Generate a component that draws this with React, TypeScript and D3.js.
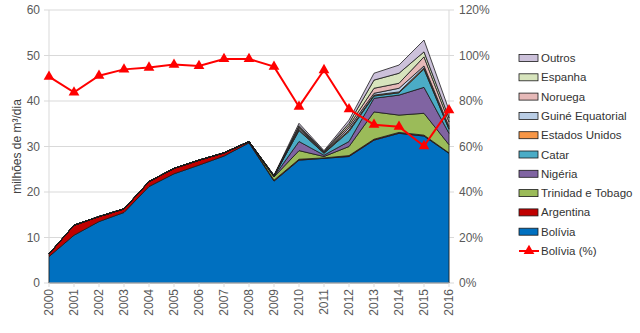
import React from "react";
import * as d3 from "d3";

const years = [2000,2001,2002,2003,2004,2005,2006,2007,2008,2009,2010,2011,2012,2013,2014,2015,2016];
const bolivia =   [5.8,10.5,13.5,15.5,21.2,24.0,25.9,27.9,30.8,22.4,27.0,27.4,27.8,31.4,32.9,32.3,28.5];
const argentina = [0.6,2.2,1.1,0.8,1.1,1.2,1.1,0.7,0.3,0.2,0.2,0.1,0.2,0.2,0.2,0.2,0.1];
const trinidad =  [0,0,0,0,0,0,0,0,0,0.7,1.9,0.3,2.0,6.0,3.8,4.8,1.8];
const nigeria =   [0,0,0,0,0,0,0,0,0,0.1,2.0,0.3,1.1,3.0,4.4,5.7,2.5];
const catar =     [0,0,0,0,0,0,0,0,0,0.1,2.4,0.4,2.2,0.5,0.5,4.0,0.9];
const eua =       [0,0,0,0,0,0,0,0,0,0,0.2,0.1,0.3,0.2,0.2,0.3,0.2];
const guine =     [0,0,0,0,0,0,0,0,0,0.1,0.3,0.1,0.5,0.4,0.8,0.4,0.4];
const noruega =   [0,0,0,0,0,0,0,0,0,0,0.3,0.1,0.5,1.1,1.1,2.0,1.0];
const espanha =   [0,0,0,0,0,0,0,0,0,0,0.3,0.1,0.5,1.8,2.2,1.1,0.9];
const outros =    [0,0,0,0,0,0,0,0,0,0.1,0.5,0.2,0.7,1.5,1.8,2.6,1.7];
const boliviaPct = [90.7,83.8,91.1,93.9,94.7,96.0,95.4,98.5,98.5,95.1,77.5,93.6,76.4,69.6,68.7,60.2,76.0];

const seriesNames = ["Bolívia","Argentina","Trinidad e Tobago","Nigéria","Catar","Estados Unidos","Guiné Equatorial","Noruega","Espanha","Outros"];
const seriesData = [bolivia,argentina,trinidad,nigeria,catar,eua,guine,noruega,espanha,outros];
const seriesColors = ["#0070C0","#C00000","#9BBB59","#8064A2","#4BACC6","#F79646","#B9CDE5","#E6B9B8","#D7E4BD","#CCC1DA"];

const leftTicks = [0,10,20,30,40,50,60];
const rightTicks = [0,20,40,60,80,100,120];

export default function App() {
  const W = 640, H = 333;
  const left = 49, right = 449, top = 10, bottom = 283;
  const x = d3.scaleLinear().domain([2000, 2016]).range([left, right]);
  const y = d3.scaleLinear().domain([0, 60]).range([bottom, top]);
  const yr = d3.scaleLinear().domain([0, 120]).range([bottom, top]);

  const table = years.map((yv, i) => {
    const row: any = { year: yv };
    seriesNames.forEach((n, j) => (row[n] = seriesData[j][i]));
    return row;
  });
  const stack = d3.stack<any>().keys(seriesNames)(table);
  const area = d3.area<any>()
    .x((d) => x(d.data.year))
    .y0((d) => y(d[0]))
    .y1((d) => y(d[1]));
  const line = d3.line<number>()
    .x((_, i) => x(years[i]))
    .y((d) => yr(d));
  const tri = d3.symbol().type(d3.symbolTriangle).size(50)();

  const font = "'Liberation Sans', Arial, sans-serif";
  const legendItems = [...seriesNames].reverse();
  const legendX = 519, legendY0 = 58, legendStep = 19.3;

  return (
    <svg width={W} height={H} style={{ position: "absolute", left: 0, top: 0, background: "#fff" }} fontFamily={font}>
      {leftTicks.map((t) => (
        <g key={"g" + t}>
          {t > 0 && <line x1={left} x2={right} y1={y(t)} y2={y(t)} stroke="#D9D9D9" strokeWidth={1} />}
          <line x1={left - 5} x2={left} y1={y(t)} y2={y(t)} stroke="#D9D9D9" />
          <text x={left - 9} y={y(t)} dy="0.35em" textAnchor="end" fontSize={12} fill="#595959">{t}</text>
        </g>
      ))}
      {rightTicks.map((t) => (
        <g key={"r" + t}>
          <line x1={right} x2={right + 5} y1={yr(t)} y2={yr(t)} stroke="#D9D9D9" />
          <text x={right + 10} y={yr(t)} dy="0.35em" textAnchor="start" fontSize={12} fill="#595959">{t}%</text>
        </g>
      ))}
      <line x1={left} x2={left} y1={top} y2={bottom} stroke="#D9D9D9" />
      <line x1={right} x2={right} y1={top} y2={bottom} stroke="#D9D9D9" />
      {stack.map((s, i) => (
        <path key={s.key} d={area(s) || ""} fill={seriesColors[i]} stroke="#1a1a1a" strokeWidth={0.8} strokeLinejoin="round" />
      ))}
      <line x1={left} x2={right} y1={bottom} y2={bottom} stroke="#D9D9D9" />
      {years.map((yv) => (
        <g key={"x" + yv}>
          <line x1={x(yv)} x2={x(yv)} y1={bottom} y2={bottom + 4} stroke="#D9D9D9" />
          <text transform={`translate(${x(yv)},${bottom + 6}) rotate(-90)`} dy="0.35em" textAnchor="end" fontSize={12} fill="#595959">{yv}</text>
        </g>
      ))}
      <path d={line(boliviaPct) || ""} fill="none" stroke="#FF0000" strokeWidth={2} />
      {boliviaPct.map((p, i) => (
        <path key={"m" + i} d={tri || ""} transform={`translate(${x(years[i])},${yr(p)})`} fill="#FF0000" />
      ))}
      <text transform={`translate(17,${(top + bottom) / 2}) rotate(-90)`} textAnchor="middle" dy="0.35em" fontSize={12} fill="#404040">milhões de m³/dia</text>
      {legendItems.map((n, k) => {
        const j = seriesNames.indexOf(n);
        const ly = legendY0 + k * legendStep;
        return (
          <g key={"l" + n}>
            <rect x={legendX} y={ly - 3.5} width={19} height={7} fill={seriesColors[j]} stroke="#1a1a1a" strokeWidth={0.8} />
            <text x={legendX + 22} y={ly} dy="0.35em" fontSize={11.5} fill="#333333">{n}</text>
          </g>
        );
      })}
      {(() => {
        const ly = legendY0 + legendItems.length * legendStep;
        return (
          <g>
            <line x1={legendX} x2={legendX + 20} y1={ly} y2={ly} stroke="#FF0000" strokeWidth={2} />
            <path d={tri || ""} transform={`translate(${legendX + 10},${ly})`} fill="#FF0000" />
            <text x={legendX + 22} y={ly} dy="0.35em" fontSize={11.5} fill="#333333">Bolívia (%)</text>
          </g>
        );
      })()}
    </svg>
  );
}
